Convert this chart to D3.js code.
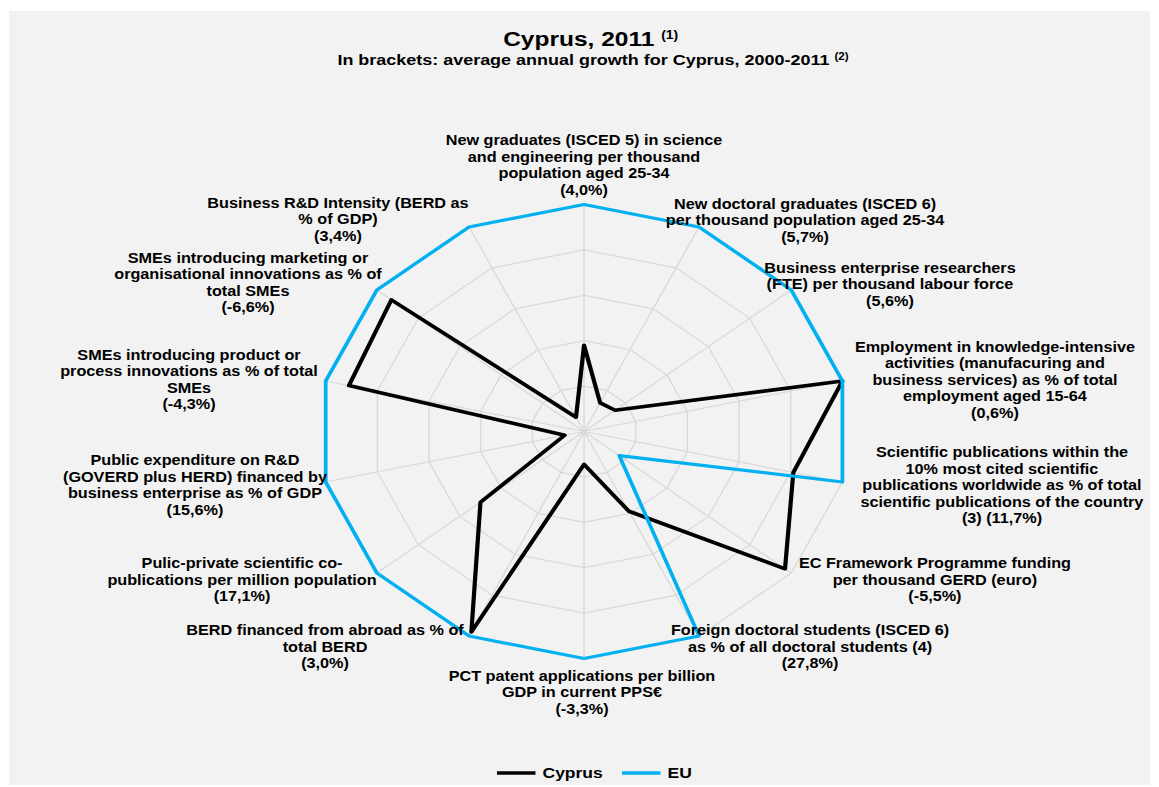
<!DOCTYPE html>
<html lang="en">
<head>
<meta charset="UTF-8">
<title>Cyprus, 2011</title>
<script src="https://d3js.org/d3.v7.min.js"></script>
<style>
  body { margin: 0; background: #fff; }
  svg { display: block; font-family: "Liberation Sans", Arial, sans-serif; font-weight: bold; }
</style>
</head>
<body>
<svg id="chart"></svg>
<script>
// indicator labels (one entry per axis, clockwise from the top)
const indicators = [
  ["New graduates (ISCED 5) in science", "and engineering per thousand", "population aged 25-34"],
  ["New doctoral graduates (ISCED 6)", "per thousand population aged 25-34"],
  ["Business enterprise researchers", "(FTE) per thousand labour force"],
  ["Employment in knowledge-intensive", "activities (manufacuring and", "business services) as % of total", "employment aged 15-64"],
  ["Scientific publications within the", "10% most cited scientific", "publications worldwide as % of total", "scientific publications of the country"],
  ["EC Framework Programme funding", "per thousand GERD (euro)"],
  ["Foreign doctoral students (ISCED 6)", "as % of all doctoral students (4)"],
  ["PCT patent applications per billion", "GDP in current PPS€"],
  ["BERD financed from abroad as % of", "total BERD"],
  ["Pulic-private scientific co-", "publications per million population"],
  ["Public expenditure on R&D", "(GOVERD plus HERD) financed by", "business enterprise as % of GDP"],
  ["SMEs introducing product or", "process innovations as % of total", "SMEs"],
  ["SMEs introducing marketing or", "organisational innovations as % of", "total SMEs"],
  ["Business R&D Intensity (BERD as", "% of GDP)"]
];
const growth = ["(4,0%)", "(5,7%)", "(5,6%)", "(0,6%)", "(3) (11,7%)", "(-5,5%)", "(27,8%)",
                "(-3,3%)", "(3,0%)", "(17,1%)", "(15,6%)", "(-4,3%)", "(-6,6%)", "(3,4%)"];

// values relative to EU = 1
const cyprus = [0.38, 0.14, 0.15, 1.0, 0.81, 0.97, 0.39, 0.145, 0.98, 0.50, 0.075, 0.91, 0.93, 0.07];
const eu     = [1, 1, 1, 1, 1, 0.17, 1, 1, 1, 1, 1, 1, 1, 1];

const gridSteps = [0.2, 0.4, 0.6, 0.8, 1.0];
const seriesNames = ["Cyprus", "EU"];
const seriesColors = ["#000000", "#00b0f0"];

// layout: the original picture is stretched horizontally
const W = 1159, H = 787;
const SX = 1.1674;
const VW = W / SX;
const cx = 500.3, cy = 431.5, R = 227;
const lineH = 16.5;

// label offsets from the axis end point [dx, dy of first baseline]
const labelOffset = [
  [0, -59.5], [90.8, -18], [84.6, -17], [130.7, -29], [136.7, -25], [123.1, -5], [95.1, -1],
  [-1.8, 22.5], [-123.4, -1], [-115.5, -5], [-112, -17], [-117.1, -21], [-110.4, -27], [-112.3, -19]
];

const svg = d3.select("#chart")
  .attr("width", W)
  .attr("height", H)
  .attr("viewBox", `0 0 ${VW} ${H}`)
  .attr("preserveAspectRatio", "none");

svg.append("rect")
  .attr("x", 9 / SX).attr("y", 11)
  .attr("width", (1150 - 9) / SX).attr("height", 774)
  .attr("fill", "#f2f2f2");

const n = indicators.length;
const angle = d3.scaleLinear().domain([0, n]).range([0, 2 * Math.PI]);
const r = d3.scaleLinear().domain([0, 1]).range([0, R]);

const g = svg.append("g").attr("transform", `translate(${cx},${cy})`);

// spokes
g.selectAll("line.spoke")
  .data(d3.range(n))
  .enter().append("line")
  .attr("class", "spoke")
  .attr("x1", 0).attr("y1", 0)
  .attr("x2", i => r(1) * Math.sin(angle(i)))
  .attr("y2", i => -r(1) * Math.cos(angle(i)))
  .attr("stroke", "#d9d9d9")
  .attr("stroke-width", 1.2);

// rings
const ring = d3.lineRadial()
  .angle((d, i) => angle(i))
  .radius(d => r(d))
  .curve(d3.curveLinearClosed);

g.selectAll("path.ring")
  .data(gridSteps)
  .enter().append("path")
  .attr("class", "ring")
  .attr("d", s => ring(d3.range(n).map(() => s)))
  .attr("fill", "none")
  .attr("stroke", "#d9d9d9")
  .attr("stroke-width", 1.2);

// series
[cyprus, eu].forEach((vals, k) => {
  g.append("path")
    .attr("d", ring(vals))
    .attr("fill", "none")
    .attr("stroke", seriesColors[k])
    .attr("stroke-width", k === 0 ? 3.6 : 3.2)
    .attr("stroke-linejoin", "round");
});

// axis labels
indicators.forEach((lines, i) => {
  const ex = r(1) * Math.sin(angle(i)) + labelOffset[i][0];
  const ey = -r(1) * Math.cos(angle(i)) + labelOffset[i][1];
  const t = g.append("text")
    .attr("text-anchor", "middle")
    .attr("font-size", 13.9)
    .attr("fill", "#000");
  lines.concat([growth[i]]).forEach((line, j) => {
    t.append("tspan")
      .attr("x", ex)
      .attr("y", ey + j * lineH)
      .text(line);
  });
});

// title
const title = svg.append("text")
  .attr("x", 506).attr("y", 46)
  .attr("text-anchor", "middle")
  .attr("font-size", 21);
title.append("tspan").text("Cyprus, 2011 ");
title.append("tspan").attr("font-size", 12).attr("dy", -7).text("(1)");

const sub = svg.append("text")
  .attr("x", 508).attr("y", 65)
  .attr("text-anchor", "middle")
  .attr("font-size", 15.4);
sub.append("tspan").text("In brackets: average annual growth for Cyprus, 2000-2011 ");
sub.append("tspan").attr("font-size", 10).attr("dy", -5).text("(2)");

// legend
const legendX = [425.7, 532.8];
const legend = svg.append("g").attr("transform", "translate(0,773)");
seriesNames.forEach((name, k) => {
  legend.append("line")
    .attr("x1", legendX[k]).attr("x2", legendX[k] + 33)
    .attr("y1", 0).attr("y2", 0)
    .attr("stroke", seriesColors[k])
    .attr("stroke-width", 3.6);
  legend.append("text")
    .attr("x", legendX[k] + 39)
    .attr("y", 5)
    .attr("font-size", 15)
    .text(name);
});
</script>
</body>
</html>
